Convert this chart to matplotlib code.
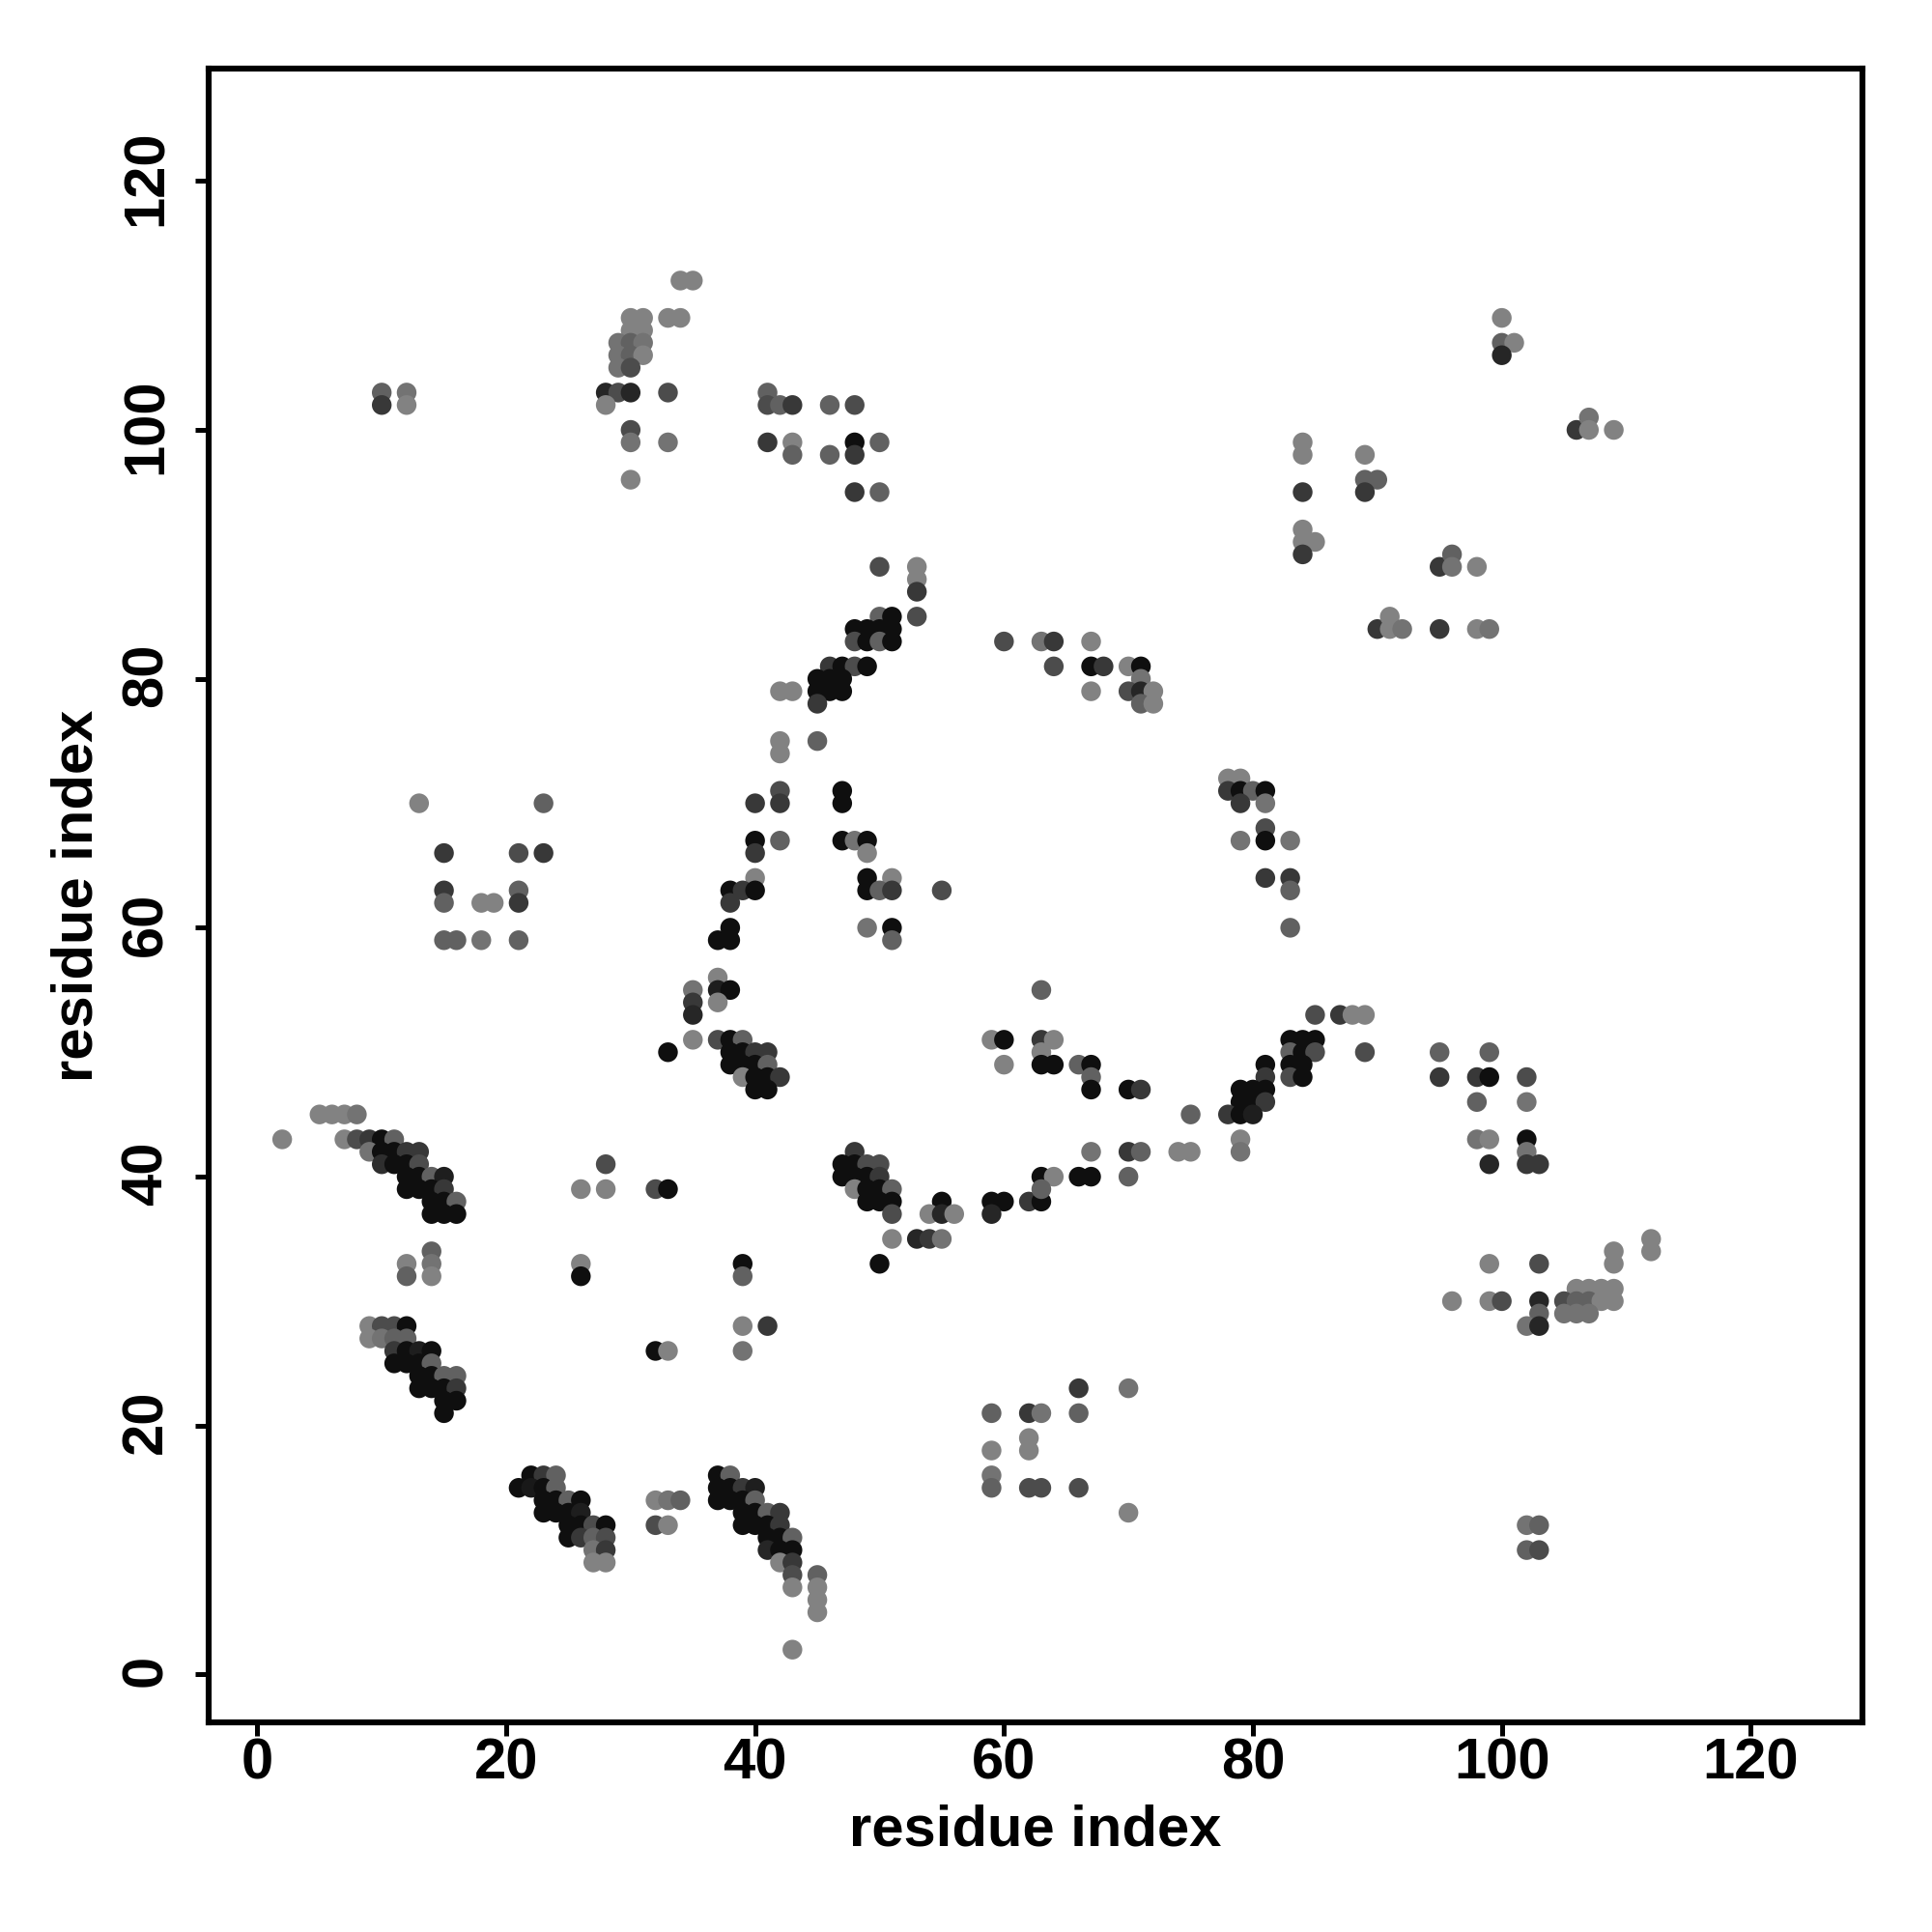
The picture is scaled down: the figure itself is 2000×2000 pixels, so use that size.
import matplotlib
matplotlib.use("Agg")

import numpy as np
import matplotlib.pyplot as plt
from matplotlib.transforms import ScaledTranslation

# contact strength levels, darker = stronger
L, LM, M, MD, D, K = 0.49, 0.55, 0.62, 0.70, 0.78, 0.94

# === contacts as (i, j, strength) ===
helix_a = [
    (2, 43, L), (5, 45, L), (6, 45, L), (7, 45, L), (8, 45, LM),
    (7, 43, L), (8, 43, MD), (9, 43, D), (10, 43, K), (11, 43, M),
    (9, 42, LM), (10, 42, K), (11, 42, K), (12, 42, D), (13, 42, D),
    (10, 41, 0.82), (11, 41, K), (12, 41, K), (13, 41, MD),
    (12, 40, K), (13, 40, K), (14, 40, M), (15, 40, 0.88),
    (12, 39, K), (13, 39, K), (14, 39, K), (15, 39, D),
    (14, 38, K), (15, 38, K), (16, 38, M),
    (14, 37, K), (15, 37, K), (16, 37, K),
    (14, 34, M), (14, 33, LM), (14, 32, L), (12, 33, L), (12, 32, M),
]
helix_b = [
    (9, 28, L), (10, 28, MD), (11, 28, MD), (12, 28, K),
    (9, 27, L), (10, 27, LM), (11, 27, M), (12, 27, M),
    (11, 26, D), (12, 26, K), (13, 26, 0.88), (14, 26, K),
    (11, 25, K), (12, 25, K), (13, 25, K), (14, 25, M),
    (13, 24, K), (14, 24, K), (15, 24, M), (16, 24, M),
    (13, 23, K), (14, 23, K), (15, 23, K), (16, 23, D),
    (15, 22, K), (16, 22, K), (15, 21, K),
]
helix_c = [
    (22, 16, K), (23, 16, D), (24, 16, M),
    (21, 15, K), (22, 15, 0.9), (23, 15, K), (24, 15, M),
    (23, 14, K), (24, 14, K), (25, 14, M), (26, 14, K),
    (23, 13, K), (24, 13, K), (25, 13, K), (26, 13, 0.88),
    (25, 12, K), (26, 12, K), (27, 12, MD), (28, 12, K),
    (25, 11, K), (26, 11, D), (27, 11, M), (28, 11, MD),
    (27, 10, LM), (28, 10, D), (27, 9, L), (28, 9, L),
    (32, 14, L), (33, 14, LM), (34, 14, M), (32, 12, MD), (33, 12, L),
]
helix_d = [
    (37, 16, K), (38, 16, M),
    (37, 15, K), (38, 15, K), (39, 15, D), (40, 15, 0.88),
    (37, 14, K), (38, 14, K), (39, 14, K), (40, 14, M),
    (39, 13, K), (40, 13, K), (41, 13, M), (42, 13, D),
    (39, 12, K), (40, 12, K), (41, 12, K), (42, 12, D),
    (41, 11, K), (42, 11, K), (43, 11, M),
    (41, 10, 0.85), (42, 10, K), (43, 10, K),
    (42, 9, L), (43, 9, D), (43, 8, MD), (45, 8, M),
    (43, 7, L), (45, 7, L), (45, 6, L), (45, 5, L), (43, 2, L),
]
turn_50 = [
    (37, 56, L), (35, 55, LM), (37, 55, 0.88), (38, 55, K),
    (35, 54, D), (37, 54, L), (35, 53, 0.85),
    (35, 51, L), (37, 51, MD), (38, 51, K), (39, 51, M),
    (33, 50, K), (38, 50, K), (39, 50, K), (40, 50, D), (41, 50, D),
    (38, 49, K), (39, 49, K), (40, 49, K), (41, 49, M),
    (39, 48, L), (40, 48, K), (41, 48, K), (42, 48, D),
    (40, 47, K), (41, 47, K),
]
turn_40 = [
    (48, 42, D),
    (47, 41, K), (48, 41, K), (49, 41, MD), (50, 41, MD),
    (47, 40, K), (48, 40, K), (49, 40, K), (50, 40, D),
    (48, 39, L), (49, 39, K), (50, 39, K), (51, 39, M),
    (49, 38, K), (50, 38, K), (51, 38, K), (55, 38, K),
    (59, 38, K), (60, 38, K), (62, 38, D), (63, 38, K),
    (51, 37, MD), (54, 37, L), (55, 37, 0.85), (56, 37, L), (59, 37, 0.85),
    (51, 35, L), (53, 35, 0.85), (54, 35, D), (55, 35, LM), (50, 33, K),
    (63, 40, K), (64, 40, L), (63, 39, M),
    (66, 40, K), (67, 40, K), (70, 40, M),
    (67, 42, LM), (70, 42, D), (71, 42, M),
    (74, 42, L), (75, 42, L), (75, 45, M),
]
turn_50b = [
    (59, 51, L), (60, 51, K), (60, 49, L),
    (63, 55, M), (63, 51, D), (64, 51, L), (63, 50, L),
    (63, 49, K), (64, 49, K), (66, 49, M), (67, 49, K),
    (67, 48, M), (67, 47, K), (70, 47, K), (71, 47, D),
]
strand_80 = [
    (83, 51, K), (84, 51, K), (85, 51, K),
    (83, 50, M), (84, 50, K), (85, 50, MD),
    (81, 49, K), (83, 49, K), (84, 49, K),
    (81, 48, D), (83, 48, MD), (84, 48, K),
    (79, 47, K), (80, 47, K), (81, 47, K),
    (79, 46, K), (80, 46, K), (81, 46, D),
    (78, 45, D), (79, 45, K), (80, 45, 0.88),
    (79, 43, L), (79, 42, LM),
    (85, 53, MD), (87, 53, D), (88, 53, L), (89, 53, L), (89, 50, MD),
]
sheet_80 = [
    (50, 89, MD), (53, 89, L), (53, 88, L), (53, 87, D), (53, 85, MD),
    (50, 85, M), (51, 85, K),
    (48, 84, K), (49, 84, K), (50, 84, K), (51, 84, K),
    (48, 83, MD), (49, 83, K), (50, 83, M), (51, 83, K),
    (46, 81, D), (47, 81, K), (48, 81, MD), (49, 81, K),
    (45, 80, K), (46, 80, K), (47, 80, K),
    (42, 79, L), (43, 79, L), (45, 79, K), (46, 79, K), (47, 79, K),
    (45, 78, D),
]
top_30 = [
    (30, 109, L), (31, 109, L), (33, 109, L), (34, 109, L),
    (34, 112, L), (35, 112, L),
    (30, 108, L), (31, 108, L),
    (29, 107, LM), (30, 107, M), (31, 107, LM),
    (29, 106, LM), (30, 106, M), (31, 106, L),
    (29, 105, LM), (30, 105, MD),
    (28, 103, 0.85), (29, 103, MD), (30, 103, 0.85), (33, 103, MD),
    (28, 102, L), (30, 100, MD), (30, 99, LM), (33, 99, LM), (30, 96, L),
    (10, 103, M), (10, 102, D), (12, 103, LM), (12, 102, L),
]
top_45 = [
    (41, 103, M), (41, 102, MD), (42, 102, M), (43, 102, D),
    (41, 99, D), (43, 99, L), (43, 98, M),
    (46, 102, M), (48, 102, MD), (46, 98, M),
    (48, 99, K), (48, 98, D), (50, 99, M), (48, 95, D), (50, 95, M),
]
top_right = [
    (100, 109, L), (100, 107, M), (101, 107, L), (100, 106, 0.85),
    (106, 100, D), (107, 101, LM), (107, 100, L), (109, 100, L),
    (84, 99, L), (84, 98, L), (84, 95, D), (84, 92, L), (84, 91, L),
    (85, 91, L), (84, 90, D),
    (89, 98, L), (89, 96, M), (90, 96, M), (89, 95, D),
    (95, 89, D), (96, 90, M), (96, 89, LM), (98, 89, L),
    (90, 84, D), (91, 85, L), (91, 84, L), (92, 84, LM),
    (95, 84, D), (98, 84, L), (99, 84, LM),
]
mid_75 = [
    (60, 83, MD), (63, 83, LM), (64, 83, D), (64, 81, MD),
    (67, 83, L), (67, 81, K), (68, 81, D), (67, 79, L),
    (70, 81, L), (71, 81, K), (71, 80, LM), (70, 79, MD),
    (71, 79, 0.85), (72, 79, L), (71, 78, M), (72, 78, L),
    (78, 72, L), (79, 72, L), (78, 71, D), (79, 71, K), (80, 71, M),
    (81, 71, K), (79, 70, D), (81, 70, LM), (81, 68, MD), (81, 67, K),
    (79, 67, LM), (83, 67, LM), (81, 64, D), (83, 64, D), (83, 63, M),
    (83, 60, M),
]
strand_65 = [
    (45, 75, M), (42, 75, L), (42, 74, L), (42, 71, MD), (42, 70, D),
    (40, 70, D), (40, 67, K), (40, 66, D), (42, 67, M),
    (47, 71, K), (47, 70, K), (47, 67, K), (48, 67, LM), (49, 67, K),
    (49, 66, L), (49, 64, K), (51, 64, L), (49, 63, K), (50, 63, M),
    (51, 63, D), (49, 60, LM), (51, 60, K), (51, 59, M), (55, 63, MD),
    (40, 64, L), (38, 63, K), (39, 63, D), (40, 63, K), (38, 62, D),
    (38, 60, K), (38, 59, K), (37, 59, K),
]
left_65 = [
    (13, 70, L), (23, 70, M), (15, 66, D), (21, 66, MD), (23, 66, D),
    (15, 63, D), (15, 62, M), (21, 63, M), (21, 62, D),
    (18, 62, L), (19, 62, L), (15, 59, M), (16, 59, M), (18, 59, LM),
    (21, 59, M),
]
right_45 = [
    (95, 50, M), (99, 50, M), (95, 48, D), (98, 48, D), (99, 48, K),
    (102, 48, MD), (102, 46, LM), (98, 46, M), (98, 43, LM), (99, 43, L),
    (102, 43, K), (102, 42, LM), (99, 41, 0.85), (102, 41, D), (103, 41, D),
]
right_30 = [
    (103, 33, MD), (99, 33, L), (109, 34, L), (109, 33, L),
    (112, 35, L), (112, 34, L),
    (106, 31, L), (107, 31, L), (108, 31, L), (109, 31, L),
    (96, 30, L), (99, 30, L), (100, 30, MD), (103, 30, 0.85), (105, 30, MD),
    (106, 30, M), (107, 30, M), (108, 30, L), (109, 30, L),
    (103, 29, M), (105, 29, LM), (106, 29, LM), (107, 29, LM),
    (102, 28, LM), (103, 28, 0.85),
]
lower_mid = [
    (28, 41, MD), (26, 39, L), (28, 39, L), (32, 39, MD), (33, 39, K),
    (26, 33, L), (26, 32, K), (39, 33, K), (39, 32, M),
    (39, 28, L), (41, 28, D), (39, 26, LM), (32, 26, K), (33, 26, L),
]
lower_right = [
    (59, 21, M), (62, 21, D), (63, 21, LM), (66, 23, D), (66, 21, M),
    (70, 23, LM), (59, 18, L), (62, 19, L), (62, 18, L), (59, 16, LM),
    (59, 15, M), (62, 15, MD), (63, 15, MD), (66, 15, MD), (70, 13, L),
    (102, 12, LM), (103, 12, M), (102, 10, M), (103, 10, MD),
]

groups = [helix_a, helix_b, helix_c, helix_d, turn_50, turn_40, turn_50b,
          strand_80, sheet_80, top_30, top_45, top_right, mid_75, strand_65,
          left_65, right_45, right_30, lower_mid, lower_right]

ticks = [0, 20, 40, 60, 80, 100, 120]
axis_label = "residue index"


def main():
    plt.rcParams['font.family'] = ['Liberation Sans', 'DejaVu Sans']
    plt.rcParams['font.weight'] = 'bold'

    contacts = np.array([c for g in groups for c in g])

    fig = plt.figure(figsize=(10, 10), dpi=200)
    ax = fig.add_axes([0.1078, 0.1084, 0.8560, 0.8559])

    ax.scatter(contacts[:, 0], contacts[:, 1], c=contacts[:, 2],
               cmap='gray_r', vmin=0, vmax=1, s=54, linewidths=0)

    ax.set_xlim(-3.94, 128.95)
    ax.set_ylim(-3.86, 129.0)
    ax.set_xticks(ticks)
    ax.set_yticks(ticks)
    ax.set_xlabel(axis_label, fontsize=21.5, fontweight='bold', labelpad=5)
    ax.set_ylabel(axis_label, fontsize=21.5, fontweight='bold', labelpad=6)

    ax.tick_params(length=5, width=1.8, labelsize=21.5)
    ax.tick_params(axis='x', pad=0.5)
    ax.tick_params(axis='y', pad=8)

    # rotated labels sit a little low, nudge them onto the ticks
    nudge = ScaledTranslation(0, 1.3 / 72, fig.dpi_scale_trans)
    for lab in ax.get_yticklabels():
        lab.set_rotation(90)
        lab.set_va('center')
        lab.set_transform(lab.get_transform() + nudge)
    for spine in ax.spines.values():
        spine.set_linewidth(2.2)

    fig.savefig("out.png", dpi=200)


if __name__ == "__main__":
    main()
